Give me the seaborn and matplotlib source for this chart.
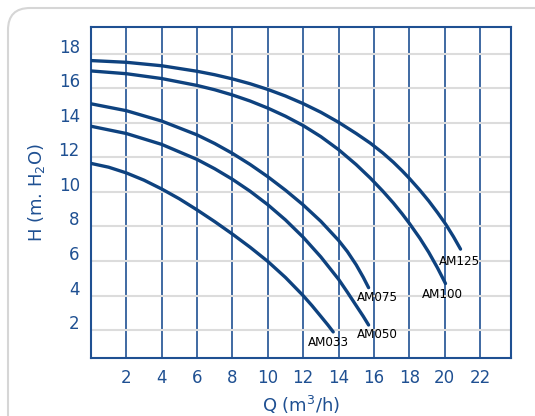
import matplotlib
matplotlib.use("Agg")
import matplotlib.pyplot as plt
import matplotlib.transforms as mtransforms
from matplotlib.patches import FancyBboxPatch
import pandas as pd
import seaborn as sns

# pump curves: flow Q (m3/h) vs head H (m)
models = ["AM033", "AM050", "AM075", "AM100", "AM125"]
q_am033 = [0, 1, 2, 3, 4, 5, 6, 7, 8, 9, 10, 11, 12, 12.5, 13, 13.4, 13.7]
h_am033 = [11.65, 11.43, 11.1, 10.68, 10.17, 9.6, 8.96, 8.28, 7.56, 6.8, 5.98,
           5.05, 4.0, 3.42, 2.8, 2.3, 1.9]
q_am050 = [0, 2, 4, 6, 7, 8, 9, 10, 11, 12, 13, 14, 14.5, 15, 15.4, 15.7]
h_am050 = [13.8, 13.38, 12.75, 11.88, 11.34, 10.73, 10.04, 9.26, 8.38, 7.38,
           6.24, 4.95, 4.2, 3.42, 2.8, 2.3]
q_am075 = [0, 2, 4, 6, 7, 8, 9, 10, 11, 12, 13, 14, 14.5, 15, 15.4, 15.7]
h_am075 = [15.1, 14.7, 14.1, 13.3, 12.8, 12.23, 11.59, 10.88, 10.1, 9.25, 8.3,
           7.2, 6.55, 5.78, 5.06, 4.46]
q_am100 = [0, 2, 4, 6, 7, 8, 9, 10, 11, 12, 13, 14, 15, 15.8, 16.5, 17.1, 17.6,
           18, 18.6, 19.1, 19.6, 20.05]
h_am100 = [17.0, 16.84, 16.56, 16.16, 15.91, 15.61, 15.26, 14.85, 14.38, 13.84,
           13.2, 12.45, 11.58, 10.8, 10.05, 9.36, 8.73, 8.19, 7.32, 6.51, 5.6, 4.7]
q_am125 = [0, 2, 4, 6, 7, 8, 9, 10, 11, 12, 13, 14, 15, 15.8, 16.5, 17.1, 17.6,
           18, 18.6, 19.1, 19.6, 20.05, 20.5, 20.9]
h_am125 = [17.6, 17.5, 17.3, 16.98, 16.78, 16.54, 16.26, 15.93, 15.55, 15.11,
           14.61, 14.03, 13.38, 12.82, 12.26, 11.72, 11.22, 10.79, 10.1, 9.48,
           8.8, 8.15, 7.41, 6.69]

x_ticks = [2, 4, 6, 8, 10, 12, 14, 16, 18, 20, 22]
y_ticks = [2, 4, 6, 8, 10, 12, 14, 16, 18]

curves = {
    "AM033": (q_am033, h_am033),
    "AM050": (q_am050, h_am050),
    "AM075": (q_am075, h_am075),
    "AM100": (q_am100, h_am100),
    "AM125": (q_am125, h_am125),
}
# where each label sits relative to the curve end (pixels)
label_offsets = {
    "AM033": (-5, -11),
    "AM050": (9, -10),
    "AM075": (9, -10),
    "AM100": (-3, -11),
    "AM125": (-1, -12),
}

sns.set_style("white")
plt.rcParams["font.family"] = ["DejaVu Sans"]
plt.rcParams["mathtext.default"] = "regular"

navy = "#0e427f"
blue = "#1f5092"

fig = plt.figure(figsize=(5.35, 4.16), dpi=100)
ax = fig.add_axes([0.170, 0.139, 0.785, 0.796])

# rounded frame around the chart
frame = FancyBboxPatch((0.08, -0.3), 5.5, 4.38,
                       boxstyle="round,pad=0,rounding_size=0.22",
                       transform=fig.dpi_scale_trans, fill=False,
                       edgecolor="#d6d6d6", linewidth=1.5, zorder=0)
fig.patches.append(frame)

for m in models:
    q, h = curves[m]
    df = pd.DataFrame({"Q": q, "H": h})
    sns.lineplot(data=df, x="Q", y="H", ax=ax, color=navy, linewidth=2.4,
                 sort=False, zorder=3, solid_joinstyle="round")
    dx, dy = label_offsets[m]
    ax.annotate(m, (q[-1], h[-1]), xytext=(dx, dy), textcoords="offset pixels",
                ha="center", va="center", fontsize=9.5,
                fontstretch="condensed", color="black")

ax.set_xlim(0, 23.75)
ax.set_ylim(0.38, 19.54)
ax.set_xticks(x_ticks)
ax.set_yticks(y_ticks)
ax.set_axisbelow(True)
ax.grid(axis="x", color=blue, linewidth=1.2)
ax.grid(axis="y", color="#dcdcdc", linewidth=1.5)
for s in ax.spines.values():
    s.set_color(blue)
    s.set_linewidth(1.5)

ax.tick_params(length=0, labelcolor=blue, labelsize=12)
ax.tick_params(axis="x", pad=8)
ax.tick_params(axis="y", pad=8)
shift = mtransforms.ScaledTranslation(0, 8 / 100, fig.dpi_scale_trans)
for lab in ax.get_yticklabels():
    lab.set_transform(lab.get_transform() + shift)

ax.set_xlabel("Q (m$^3$/h)", color=blue, fontsize=13, labelpad=5)
ax.set_ylabel("H (m. H$_2$O)", color=blue, fontsize=13, labelpad=8)

fig.savefig("out.png", dpi=100)
